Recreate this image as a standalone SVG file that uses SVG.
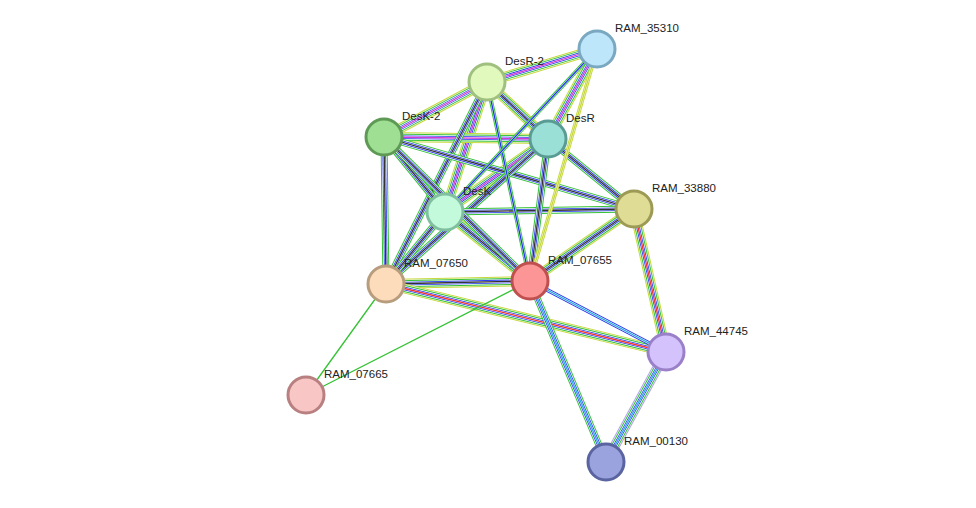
<svg xmlns="http://www.w3.org/2000/svg" xmlns:xlink="http://www.w3.org/1999/xlink" width="976" height="508" viewBox="0 0 976 508">
<style>
text{font-family:"Liberation Sans",Arial,sans-serif;font-size:11.5px;fill:#222}
.n{stroke-width:3}
.a{fill:none;stroke:#c7d83a;stroke-width:10}
.w1{fill:none;stroke:#fff;stroke-width:8}
.g{fill:none;stroke:#35c235;stroke-width:7}
.w2{fill:none;stroke:#fff;stroke-width:5}
.b{fill:none;stroke:#2233ee;stroke-width:3.6}
.w3{fill:none;stroke:#fff;stroke-width:2}
.k{fill:none;stroke:#333;stroke-width:1.3}
.m{fill:none;stroke:#d43ad4;stroke-width:1.3}
.s{fill:none;stroke:#35c235;stroke-width:1.3}
</style>
<defs>
<path id="e1" d="M487,82L597,49"/>
<path id="e2" d="M487,82L384,137"/>
<path id="e3" d="M487,82L548,139"/>
<path id="e4" d="M487,82L445,212"/>
<path id="e5" d="M487,82L386,284"/>
<path id="e6" d="M487,82L530,281"/>
<path id="e7" d="M597,49L548,139"/>
<path id="e8" d="M597,49L445,212"/>
<path id="e9" d="M597,49L530,281"/>
<path id="e10" d="M384,137L548,139"/>
<path id="e11" d="M384,137L445,212"/>
<path id="e12" d="M384,137L386,284"/>
<path id="e13" d="M384,137L634,209"/>
<path id="e14" d="M384,137L530,281"/>
<path id="e15" d="M548,139L445,212"/>
<path id="e16" d="M548,139L634,209"/>
<path id="e17" d="M548,139L530,281"/>
<path id="e18" d="M548,139L386,284"/>
<path id="e19" d="M445,212L634,209"/>
<path id="e20" d="M445,212L386,284"/>
<path id="e21" d="M445,212L530,281"/>
<path id="e22" d="M634,209L530,281"/>
<path id="e23" d="M634,209L666,352"/>
<path id="e24" d="M386,284L530,281"/>
<path id="e25" d="M386,284L666,352"/>
<path id="e26" d="M530,281L666,352"/>
<path id="e27" d="M530,281L606,462"/>
<path id="e28" d="M666,352L606,462"/>
</defs>
<g id="connectors">
<!-- full bundles -->
<g>
<use href="#e1" class="a"/><use href="#e1" class="w1"/><use href="#e1" class="g"/><use href="#e1" class="w2"/><use href="#e1" class="b"/><use href="#e1" class="w3"/><use href="#e1" class="m"/>
<use href="#e2" class="a"/><use href="#e2" class="w1"/><use href="#e2" class="g"/><use href="#e2" class="w2"/><use href="#e2" class="b"/><use href="#e2" class="w3"/><use href="#e2" class="m"/>
<use href="#e3" class="a"/><use href="#e3" class="w1"/><use href="#e3" class="g"/><use href="#e3" class="w2"/><use href="#e3" class="b"/><use href="#e3" class="w3"/><use href="#e3" class="k"/>
<use href="#e4" class="a"/><use href="#e4" class="w1"/><use href="#e4" class="g"/><use href="#e4" class="w2"/><use href="#e4" class="b"/><use href="#e4" class="w3"/><use href="#e4" class="m"/>
<use href="#e10" class="a"/><use href="#e10" class="w1"/><use href="#e10" class="g"/><use href="#e10" class="w2"/><use href="#e10" class="b"/><use href="#e10" class="w3"/><use href="#e10" class="m"/>
<use href="#e15" class="a"/><use href="#e15" class="w1"/><use href="#e15" class="g"/><use href="#e15" class="w2"/><use href="#e15" class="b"/><use href="#e15" class="w3"/><use href="#e15" class="m"/>
<use href="#e7" class="a"/><use href="#e7" class="w1"/><use href="#e7" class="g"/><use href="#e7" class="w2"/><use href="#e7" class="b"/><use href="#e7" class="w3"/><use href="#e7" class="m"/>
</g>
<!-- medium bundles green/blue/black -->
<g>
<use href="#e5" class="g"/><use href="#e5" class="w2"/><use href="#e5" class="b"/><use href="#e5" class="w3"/><use href="#e5" class="k"/>
<use href="#e11" class="g"/><use href="#e11" class="w2"/><use href="#e11" class="b"/><use href="#e11" class="w3"/><use href="#e11" class="k"/>
<use href="#e12" class="g"/><use href="#e12" class="w2"/><use href="#e12" class="b"/><use href="#e12" class="w3"/><use href="#e12" class="k"/>
<use href="#e13" class="g"/><use href="#e13" class="w2"/><use href="#e13" class="b"/><use href="#e13" class="w3"/><use href="#e13" class="k"/>
<use href="#e16" class="g"/><use href="#e16" class="w2"/><use href="#e16" class="b"/><use href="#e16" class="w3"/><use href="#e16" class="k"/>
<use href="#e18" class="g"/><use href="#e18" class="w2"/><use href="#e18" class="b"/><use href="#e18" class="w3"/><use href="#e18" class="k"/>
<use href="#e19" class="g"/><use href="#e19" class="w2"/><use href="#e19" class="b"/><use href="#e19" class="w3"/><use href="#e19" class="k"/>
<use href="#e20" class="g"/><use href="#e20" class="w2"/><use href="#e20" class="b"/><use href="#e20" class="w3"/><use href="#e20" class="k"/>
<use href="#e21" class="a"/><use href="#e21" class="w1"/><use href="#e21" class="g"/><use href="#e21" class="w2"/><use href="#e21" class="b"/><use href="#e21" class="w3"/><use href="#e21" class="k"/>
<use href="#e22" class="a"/><use href="#e22" class="w1"/><use href="#e22" class="g"/><use href="#e22" class="w2"/><use href="#e22" class="b"/><use href="#e22" class="w3"/><use href="#e22" class="k"/>
<use href="#e23" class="a"/><use href="#e23" class="w1"/><use href="#e23" class="g"/><use href="#e23" class="w2"/><use href="#e23" class="b"/><use href="#e23" class="w3"/><use href="#e23" class="m" style="stroke:#e33"/>
<use href="#e24" class="a"/><use href="#e24" class="w1"/><use href="#e24" class="g"/><use href="#e24" class="w2"/><use href="#e24" class="b"/><use href="#e24" class="w3"/><use href="#e24" class="k"/>
<use href="#e25" class="a"/><use href="#e25" class="w1"/><use href="#e25" class="g"/><use href="#e25" class="w2"/><use href="#e25" class="b"/><use href="#e25" class="w3"/><use href="#e25" class="m" style="stroke:#e33"/>
<use href="#e17" class="g"/><use href="#e17" class="w2"/><use href="#e17" class="b"/><use href="#e17" class="w3"/><use href="#e17" class="k"/>
<use href="#e14" class="g"/><use href="#e14" class="w2"/><use href="#e14" class="b"/><use href="#e14" class="w3"/><use href="#e14" class="k"/>
</g>
<!-- light bundles -->
<g>
<use href="#e6" class="g" style="stroke-width:4"/><use href="#e6" class="w3"/><use href="#e6" class="s" style="stroke:#2233ee"/>
<use href="#e8" class="g" style="stroke-width:4"/><use href="#e8" class="w3"/><use href="#e8" class="s" style="stroke:#2233ee"/>
<use href="#e9" class="a" style="stroke-width:4"/><use href="#e9" class="w3"/><use href="#e9" class="s" style="stroke:#c7d83a"/>
<use href="#e26" class="b" style="stroke-width:4;stroke:#2233ee"/><use href="#e26" class="w3"/><use href="#e26" class="s" style="stroke:#22aadd"/>
<use href="#e27" class="g"/><use href="#e27" class="w2"/><use href="#e27" class="b"/><use href="#e27" class="w3"/><use href="#e27" class="s" style="stroke:#22aadd"/>
<use href="#e28" class="a" style="stroke:#b0a0ee"/><use href="#e28" class="w1"/><use href="#e28" class="g"/><use href="#e28" class="w2"/><use href="#e28" class="b"/><use href="#e28" class="w3"/><use href="#e28" class="s" style="stroke:#22aadd"/>
<path d="M386,284L306,395M530,281L306,395" class="s"/>
</g>
</g>
<g id="RAM_35310"><circle cx="597" cy="49" r="18" class="n" fill="#bde6fb" stroke="#7aa8c0"/><text x="615" y="32">RAM_35310</text></g>
<g id="DesR-2"><circle cx="487" cy="82" r="18" class="n" fill="#e2f9bd" stroke="#a0c080"/><text x="505" y="65">DesR-2</text></g>
<g id="DesK-2"><circle cx="384" cy="137" r="18" class="n" fill="#9fdf94" stroke="#5e9a55"/><text x="402" y="120">DesK-2</text></g>
<g id="DesR"><circle cx="548" cy="139" r="18" class="n" fill="#9be0d7" stroke="#5a9c93"/><text x="566" y="122">DesR</text></g>
<g id="DesK"><circle cx="445" cy="212" r="18" class="n" fill="#c2fadb" stroke="#80c0a0"/><text x="463" y="195">DesK</text></g>
<g id="RAM_33880"><circle cx="634" cy="209" r="18" class="n" fill="#dfdc95" stroke="#9c9a55"/><text x="652" y="192">RAM_33880</text></g>
<g id="RAM_07650"><circle cx="386" cy="284" r="18" class="n" fill="#fddcbc" stroke="#b89c7e"/><text x="404" y="267">RAM_07650</text></g>
<g id="RAM_07655"><circle cx="530" cy="281" r="18" class="n" fill="#fc9696" stroke="#c05050"/><text x="548" y="264">RAM_07655</text></g>
<g id="RAM_44745"><circle cx="666" cy="352" r="18" class="n" fill="#d3c2fb" stroke="#9a80c8"/><text x="684" y="335">RAM_44745</text></g>
<g id="RAM_07665"><circle cx="306" cy="395" r="18" class="n" fill="#f9c6c6" stroke="#b88080"/><text x="324" y="378">RAM_07665</text></g>
<g id="RAM_00130"><circle cx="606" cy="462" r="18" class="n" fill="#9aa3dd" stroke="#5a64a0"/><text x="624" y="445">RAM_00130</text></g>
</svg>
